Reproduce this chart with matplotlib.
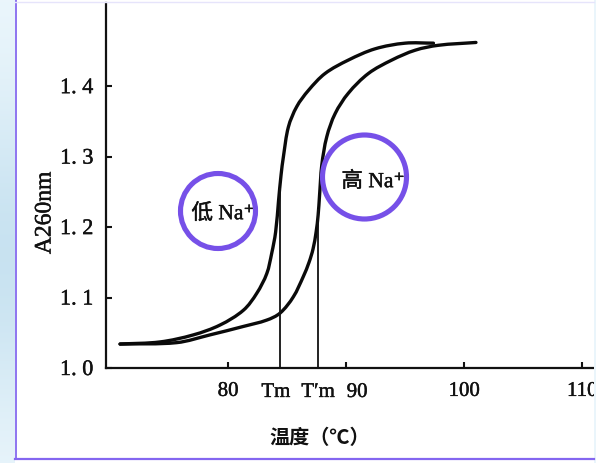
import numpy as np
import matplotlib
matplotlib.use("Agg")
import matplotlib.pyplot as plt
import matplotlib.patheffects as pe
from matplotlib.patches import Circle, Rectangle, PathPatch
from matplotlib.path import Path
from matplotlib.lines import Line2D

# ---- data ----
low_T = [70.85, 74.24, 77.06, 79.32, 81.30, 82.43, 83.28, 83.70, 84.03, 84.28, 84.49,
         84.69, 85.11, 85.82, 86.81, 88.22, 90.19, 92.46, 95.00, 97.40]
low_A = [1.034, 1.037, 1.047, 1.061, 1.082, 1.106, 1.134, 1.163, 1.193, 1.238, 1.274,
         1.300, 1.342, 1.371, 1.394, 1.418, 1.437, 1.453, 1.461, 1.461]

high_T = [70.85, 75.65, 78.47, 81.30, 83.28, 84.41, 85.53, 86.38, 86.86, 87.20, 87.46,
          87.63, 87.75, 87.94, 88.36, 89.07, 90.19, 91.89, 93.87, 95.85, 97.82, 101.0]
high_A = [1.034, 1.036, 1.047, 1.059, 1.068, 1.078, 1.101, 1.130, 1.150, 1.169, 1.193,
          1.217, 1.245, 1.288, 1.328, 1.361, 1.390, 1.418, 1.437, 1.451, 1.458, 1.462]

Tm = 84.4
Tm_prime = 87.63
Tm_top = 1.255
Tm_prime_top = 1.225

x_ticks = [80, 90, 100, 110]
x_tick_labels = ["80", "", "100", "110"]
y_ticks = [1.0, 1.1, 1.2, 1.3, 1.4]
y_tick_labels = ["1. 0", "1. 1", "1. 2", "1. 3", "1. 4"]

W, H = 596, 463
fig = plt.figure(figsize=(W / 100, H / 100), dpi=100)
fig.patch.set_facecolor("white")

serif = ["Liberation Serif", "DejaVu Serif"]
mixed = ["Liberation Serif", "Noto Sans CJK SC", "DejaVu Sans"]
ink = "#111111"
thick = [pe.withStroke(linewidth=0.3, foreground=ink)]

# ---- background decoration: left light-blue gradient strip ----
bg = fig.add_axes([0, 0, 15 / W, 1])
yy = np.linspace(0, 1, 200)
w = np.exp(-((yy - 0.55) / 0.35) ** 2) * 0.9
top = np.array([0.93, 0.97, 0.99])
deep = np.array([0.77, 0.88, 0.94])
cols = top[None, :] * (1 - w[:, None]) + deep[None, :] * w[:, None]
cols = np.clip(cols, 0, 1)
bg.imshow(cols[:, None, :].repeat(4, axis=1), aspect="auto", extent=[0, 1, 0, 1], origin="upper")
bg.set_axis_off()

# ---- main axes ----
ax = fig.add_axes([106 / W, (H - 368) / H, (594 - 106) / W, (368 - 3) / H])
ax.set_xlim(69.66, 111.0)
ax.set_ylim(1.0, 1.518)
ax.patch.set_alpha(0)

for s in ["top", "right"]:
    ax.spines[s].set_visible(False)
for s in ["left", "bottom"]:
    ax.spines[s].set_linewidth(1.6)
    ax.spines[s].set_color(ink)


def smooth_path(xs, ys):
    """Smooth Bezier path through the given points (tangents computed in display space)."""
    P = ax.transData.transform(np.column_stack([xs, ys]))
    n = len(P)
    verts = [P[0]]
    codes = [Path.MOVETO]
    tang = []
    for i in range(n):
        a = P[max(i - 1, 0)]
        b = P[min(i + 1, n - 1)]
        d = b - a
        tang.append(d / (np.hypot(*d) + 1e-12))
    for i in range(n - 1):
        L = np.hypot(*(P[i + 1] - P[i])) / 3.0
        verts += [P[i] + tang[i] * L, P[i + 1] - tang[i + 1] * L, P[i + 1]]
        codes += [Path.CURVE4] * 3
    verts = ax.transData.inverted().transform(np.array(verts))
    return Path(verts, codes)


for xs, ys in [(low_T, low_A), (high_T, high_A)]:
    ax.add_patch(PathPatch(smooth_path(xs, ys), fill=False, ec="#0a0a0a", lw=2.4,
                           capstyle="round", joinstyle="round", transform=ax.transData))

ax.vlines([Tm, Tm_prime], 1.0, [Tm_top, Tm_prime_top], color=ink, lw=1.3)

ax.set_xticks(x_ticks)
ax.set_xticklabels(x_tick_labels, fontfamily=serif, fontsize=15, color=ink)
ax.set_yticks(y_ticks)
ax.set_yticklabels(y_tick_labels, fontfamily=serif, fontsize=16, color=ink)
for lab in ax.get_xticklabels() + ax.get_yticklabels():
    lab.set_path_effects(thick)
ax.tick_params(axis="both", direction="in", length=4, width=1.5, color=ink)
ax.tick_params(axis="x", pad=10)
ax.tick_params(axis="y", pad=9)

xtr = ax.get_xaxis_transform()
for xpos, s in [(Tm - 0.35, "Tm"), (Tm_prime, "T\u2032m"), (90.93, "90")]:
    ax.text(xpos, -0.067, s, transform=xtr, ha="center", va="center",
            fontfamily=serif, fontsize=15, color=ink, path_effects=thick)

# axis labels
fig.text(45 / W, 1 - 213 / H, "A260nm", rotation=90, ha="center", va="center",
         fontfamily=serif, fontsize=17, color=ink, path_effects=thick)
fig.text(320 / W, 1 - 437 / H, "温度（℃）", ha="center", va="center",
         fontfamily=["Noto Sans CJK SC", "DejaVu Sans"], fontsize=14.5, fontweight="bold", color=ink)

# circle labels
fig.text(223 / W, 1 - 214 / H, "低 Na\u207a", ha="center", va="center",
         fontfamily=mixed, fontsize=15.5, color=ink, path_effects=thick)
fig.text(373 / W, 1 - 182 / H, "高 Na\u207a", ha="center", va="center",
         fontfamily=mixed, fontsize=15.5, color=ink, path_effects=thick)

purple = "#7650e8"
for cx, cy, r in [(218, 211, 37.5), (364.5, 177, 42)]:
    fig.add_artist(Circle((cx / 100, (H - cy) / 100), r / 100, transform=fig.dpi_scale_trans,
                          fill=False, lw=3.7, ec=purple, zorder=10))

# panel borders
fig.add_artist(Rectangle((594 / W, 0), 2 / W, 1, transform=fig.transFigure,
                         fc="#eaf5fb", ec="none", zorder=11))
fig.add_artist(Line2D([15.5 / W, 15.5 / W], [1 - 459 / H, 1], transform=fig.transFigure,
                      color="#8d74f0", lw=1.4, zorder=12))
fig.add_artist(Line2D([15 / W, 594 / W], [1 - 459 / H, 1 - 459 / H], transform=fig.transFigure,
                      color="#8466f0", lw=1.6, zorder=12))
fig.add_artist(Line2D([15 / W, 594 / W], [1 - 2 / H, 1 - 2 / H], transform=fig.transFigure,
                      color="#e6e4fb", lw=1.0, zorder=12))

fig.savefig("out.png", dpi=100, facecolor=fig.get_facecolor())
